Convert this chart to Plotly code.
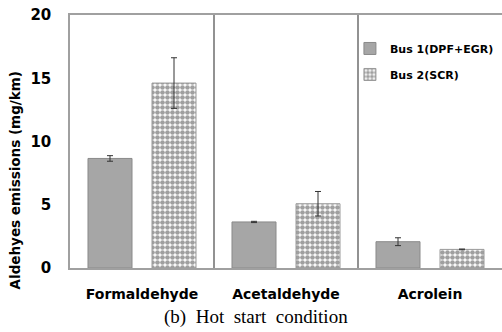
import plotly.graph_objects as go

categories = ["Formaldehyde", "Acetaldehyde", "Acrolein"]
series_names = ["Bus 1(DPF+EGR)", "Bus 2(SCR)"]
bus1_values = [8.66, 3.64, 2.08]
bus1_err = [0.22, 0.05, 0.31]
bus2_values = [14.62, 5.08, 1.47]
bus2_err = [2.0, 0.97, 0.03]
y_ticks = [0, 5, 10, 15, 20]
y_title = "Aldehyes emissions (mg/km)"
caption = "(b)\u00a0\u00a0Hot\u00a0\u00a0start\u00a0\u00a0condition"

SANS = "DejaVu Sans"
fig = go.Figure()
fig.add_trace(go.Bar(
    x=categories, y=bus1_values, name=series_names[0], legendgroup="a",
    marker=dict(color="#a6a6a6", line=dict(color="#8a8a8a", width=1)),
    error_y=dict(type="data", array=bus1_err, visible=True, color="#333333", thickness=1, width=3),
))
fig.add_trace(go.Bar(
    x=categories, y=bus2_values, name=series_names[1], legendgroup="b",
    marker=dict(color="#ffffff", line=dict(color="#9a9a9a", width=1),
                pattern=dict(shape=".", size=5, solidity=0.68, fgcolor="#404040", bgcolor="#ffffff")),
    error_y=dict(type="data", array=bus2_err, visible=True, color="#333333", thickness=1, width=3),
))

for i in range(len(categories) - 1):
    fig.add_shape(type="line", xref="x", yref="paper", x0=i + 0.5, x1=i + 0.5, y0=0, y1=1,
                  line=dict(color="#6e6e6e", width=1.5))

fig.add_annotation(text="<b>" + y_title + "</b>", textangle=-90, xref="paper", yref="paper",
                   x=-0.128, y=0.345, xanchor="center", yanchor="middle", showarrow=False,
                   font=dict(family=SANS, size=13.5, color="#000000"))
fig.add_annotation(text=caption, xref="paper", yref="paper", x=0.43, y=-0.195,
                   xanchor="center", yanchor="middle", showarrow=False,
                   font=dict(family="Liberation Serif", size=19, color="#000000"))

fig.update_layout(
    width=502, height=332,
    margin=dict(l=70, r=0, t=15, b=64),
    paper_bgcolor="white", plot_bgcolor="white",
    bargap=0.111, bargroupgap=0.3125,
    barmode="group",
    showlegend=True,
    legend=dict(x=0.648, y=0.925, xanchor="left", yanchor="top", tracegroupgap=7,
                itemwidth=30, font=dict(family=SANS, size=11, color="#000000", weight="bold"),
                bgcolor="rgba(0,0,0,0)"),
    xaxis=dict(range=[-0.5, 2.5], showline=True, linecolor="#a0a0a0", linewidth=1.5, mirror=True,
               ticks="", showgrid=False, ticklabelstandoff=12,
               tickfont=dict(family=SANS, size=14, color="#000000", weight="bold")),
    yaxis=dict(range=[0, 20], tickvals=y_ticks, showline=True, linecolor="#a0a0a0", linewidth=1.5,
               ticks="", showgrid=False, zeroline=False, ticklabelstandoff=14,
               tickfont=dict(family=SANS, size=15, color="#000000", weight="bold")),
)

fig.write_html("out.html")
